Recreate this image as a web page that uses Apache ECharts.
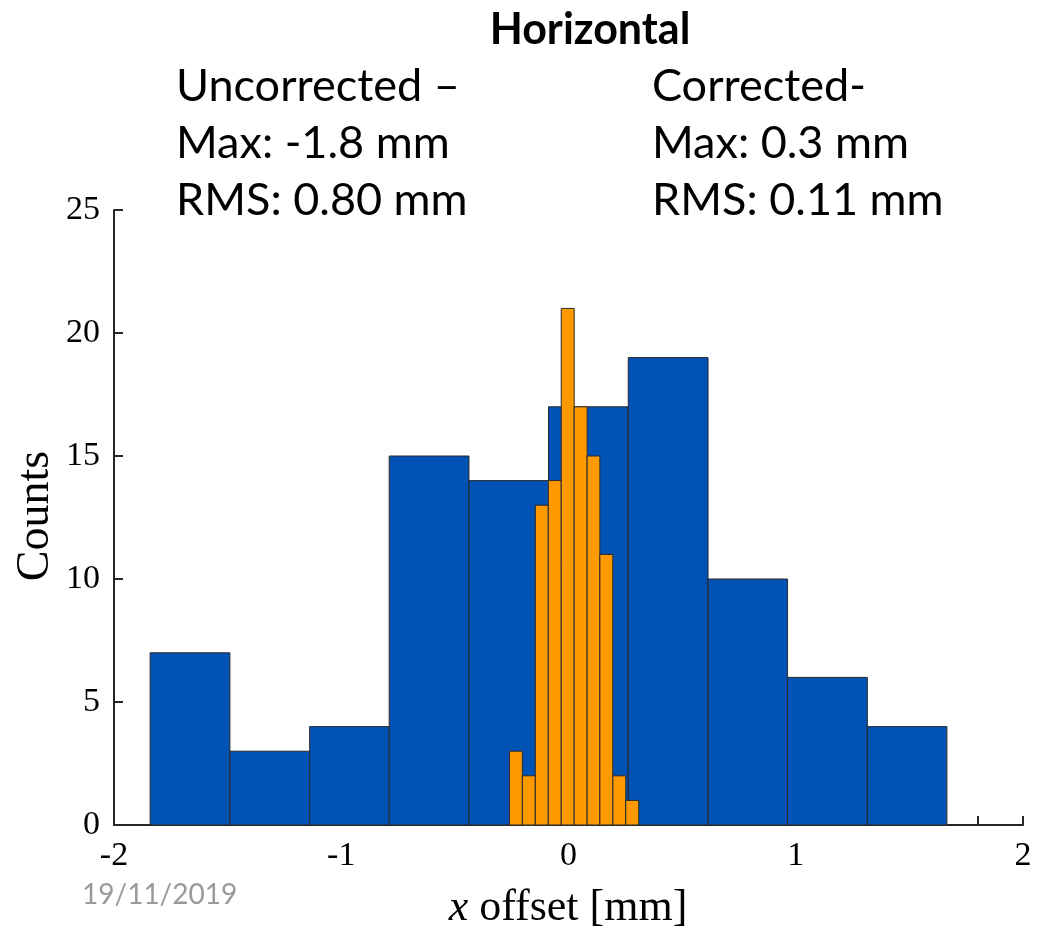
<!DOCTYPE html>
<html>
<head>
<meta charset="utf-8">
<script src="https://cdn.jsdelivr.net/npm/echarts@6/dist/echarts.min.js"></script>
<style>
  html, body { margin: 0; padding: 0; background: #ffffff; }
  #chart { width: 1038px; height: 930px; }
</style>
</head>
<body>
<div id="chart"></div>
<script>
// Histogram bin edges (mm) and counts for the horizontal offsets
const uncorrectedEdges = [-1.841, -1.490, -1.139, -0.789, -0.438, -0.088, 0.263, 0.614, 0.964, 1.315, 1.665];
const uncorrectedCounts = [7, 3, 4, 15, 14, 17, 19, 10, 6, 4];
const correctedEdges = [-0.260, -0.203, -0.146, -0.089, -0.032, 0.025, 0.082, 0.138, 0.195, 0.252, 0.309];
const correctedCounts = [3, 2, 13, 14, 21, 17, 15, 11, 2, 1];

// Axis ranges / ticks
const xRange = [-2, 2];
const xTickStep = 1;
const yRange = [0, 25];
const yTickStep = 5;

// Annotation text
const titleText = 'Horizontal';
const uncorrectedLines = ['Uncorrected \u2013', 'Max: -1.8 mm', 'RMS: 0.80 mm'];
const correctedLines = ['Corrected-', 'Max: 0.3 mm', 'RMS: 0.11 mm'];
const dateText = '19/11/2019';

const BLUE = '#0052B4';
const ORANGE = '#FF9900';
const AXIS = '#262626';
const SERIF = '"Liberation Serif", "DejaVu Serif", serif';
const SANS = 'Lato, "Open Sans", sans-serif';

function binData(edges, counts) {
  return counts.map((c, i) => [edges[i], edges[i + 1], c]);
}

function histSeries(name, edges, counts, color) {
  return {
    name: name,
    type: 'custom',
    data: binData(edges, counts),
    encode: { x: [0, 1], y: 2 },
    renderItem: function (params, api) {
      const topLeft = api.coord([api.value(0), api.value(2)]);
      const bottomRight = api.coord([api.value(1), 0]);
      return {
        type: 'rect',
        shape: {
          x: topLeft[0],
          y: topLeft[1],
          width: bottomRight[0] - topLeft[0],
          height: bottomRight[1] - topLeft[1]
        },
        style: { fill: color, stroke: '#2a2a2a', lineWidth: 1 }
      };
    }
  };
}

function textBlock(lines, left, firstY, step) {
  return lines.map((t, i) => ({
    type: 'text',
    left: left,
    top: firstY + i * step,
    style: { text: t, font: '45px ' + SANS, fill: '#000000' }
  }));
}

const chart = echarts.init(document.getElementById('chart'), null, { renderer: 'canvas' });

chart.setOption({
  animation: false,
  backgroundColor: '#ffffff',
  grid: { left: 114, right: 15, top: 210, bottom: 105, containLabel: false },
  xAxis: {
    type: 'value',
    min: xRange[0],
    max: xRange[1],
    interval: xTickStep,
    axisLine: { show: true, onZero: false, lineStyle: { color: AXIS, width: 2 } },
    axisTick: { show: true, inside: true, length: 9, lineStyle: { color: AXIS, width: 2 } },
    minorTick: { show: true, splitNumber: 5, length: 9, lineStyle: { color: AXIS, width: 2 } },
    splitLine: { show: false },
    axisLabel: { color: '#000000', fontFamily: SERIF, fontSize: 34, margin: 14 }
  },
  yAxis: {
    type: 'value',
    min: yRange[0],
    max: yRange[1],
    interval: yTickStep,
    axisLine: { show: true, onZero: false, lineStyle: { color: AXIS, width: 2 } },
    axisTick: { show: true, inside: true, length: 9, lineStyle: { color: AXIS, width: 2 } },
    splitLine: { show: false },
    axisLabel: { color: '#000000', fontFamily: SERIF, fontSize: 34, margin: 14 }
  },
  series: [
    histSeries('Uncorrected', uncorrectedEdges, uncorrectedCounts, BLUE),
    histSeries('Corrected', correctedEdges, correctedCounts, ORANGE)
  ],
  graphic: [
    {
      type: 'text',
      x: 590,
      y: 30,
      style: { text: titleText, font: 'bold 43px ' + SANS, fill: '#000000', align: 'center', verticalAlign: 'middle' }
    },
    ...textBlock(uncorrectedLines, 176, 64, 57),
    ...textBlock(correctedLines, 652, 64, 57),
    {
      type: 'text',
      left: 82,
      top: 881,
      style: { text: dateText, font: '28px ' + SANS, fill: '#9a9a9a' }
    },
    {
      type: 'text',
      x: 36,
      y: 516,
      rotation: Math.PI / 2,
      style: { text: 'Counts', font: '46px ' + SERIF, fill: '#000000', align: 'center', verticalAlign: 'middle' }
    },
    {
      type: 'text',
      x: 568,
      y: 908,
      style: {
        text: '{i|x} offset [mm]',
        align: 'center',
        verticalAlign: 'middle',
        font: '44px ' + SERIF,
        fill: '#000000',
        rich: {
          i: { fontStyle: 'italic', fontFamily: SERIF, fontSize: 44 }
        }
      }
    }
  ]
});
</script>
</body>
</html>
